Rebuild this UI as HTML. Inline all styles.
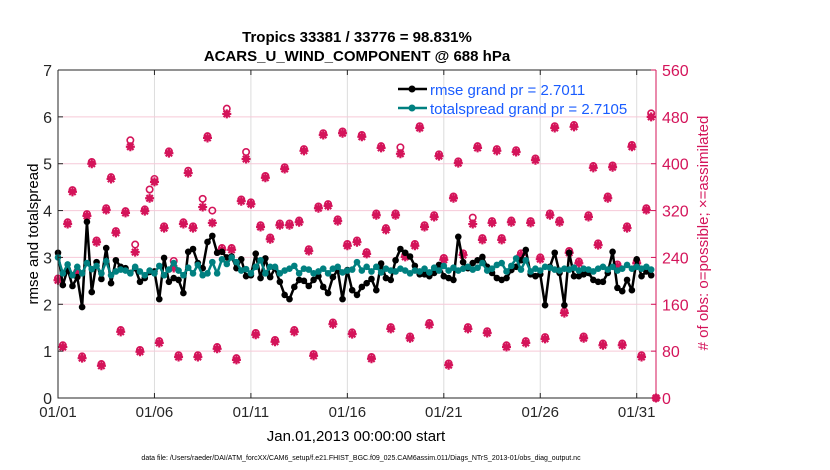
<!DOCTYPE html>
<html><head><meta charset="utf-8">
<style>
body{margin:0;background:#fff;}
svg{display:block;font-family:"Liberation Sans",Arial,sans-serif;}
</style></head>
<body>
<svg id="chart" width="830" height="470" viewBox="0 0 830 470" xmlns="http://www.w3.org/2000/svg">
<rect width="830" height="470" fill="#fff"/>
<text x="357" y="42" text-anchor="middle" font-size="15" font-weight="bold">Tropics 33381 / 33776 = 98.831%</text>
<text x="357" y="61" text-anchor="middle" font-size="15" font-weight="bold">ACARS_U_WIND_COMPONENT @ 688 hPa</text>
<g id="grid"></g>
<g id="obs"></g>
<g id="lines"></g>
<g id="axes"></g>
<g>
<line x1="398" y1="89" x2="427" y2="89" stroke="#000" stroke-width="2.5"/>
<circle cx="412" cy="89" r="3.5" fill="#000"/>
<text x="430" y="95" font-size="15" fill="#1a5cff">rmse grand pr = 2.7011</text>
<line x1="398" y1="108" x2="427" y2="108" stroke="#008080" stroke-width="2.5"/>
<circle cx="412" cy="108" r="3.5" fill="#008080"/>
<text x="430" y="114" font-size="15" fill="#1a5cff">totalspread grand pr = 2.7105</text>
</g>
<text transform="translate(38,234) rotate(-90)" text-anchor="middle" font-size="15">rmse and totalspread</text>
<text transform="translate(708,233) rotate(-90)" text-anchor="middle" font-size="15" fill="#d4145a"># of obs: o=possible; ×=assimilated</text>
<text x="356" y="441" text-anchor="middle" font-size="15">Jan.01,2013 00:00:00 start</text>
<text x="361" y="460" text-anchor="middle" font-size="7">data file: /Users/raeder/DAI/ATM_forcXX/CAM6_setup/f.e21.FHIST_BGC.f09_025.CAM6assim.011/Diags_NTrS_2013-01/obs_diag_output.nc</text>
</svg>
<script>
const xTickLabels=["01/01","01/06","01/11","01/16","01/21","01/26","01/31"];
const xTickDays=[0,5,10,15,20,25,30];
const yTicksLeft=[0,1,2,3,4,5,6,7];
const yTicksRight=[0,80,160,240,320,400,480,560];
const rmse=[3.10,2.41,2.75,2.39,2.58,1.94,3.76,2.26,2.90,2.54,
3.20,2.45,2.94,2.80,2.77,2.67,2.77,2.48,2.56,2.69,
2.70,2.11,2.99,2.48,2.56,2.52,2.24,3.12,3.18,2.88,
2.77,3.33,3.46,3.10,3.12,3.00,3.02,2.77,2.96,2.60,
2.62,3.08,2.56,2.98,2.58,2.77,2.48,2.20,2.11,2.37,
2.52,2.50,2.39,2.52,2.60,2.37,2.24,2.58,2.73,2.11,
2.73,2.30,2.20,2.37,2.45,2.54,2.30,2.87,2.56,2.52,
2.94,3.18,3.10,3.02,2.82,2.64,2.64,2.60,2.67,2.84,
2.60,2.56,2.52,3.44,2.90,2.77,2.88,2.94,3.01,2.80,
2.67,2.56,2.52,2.56,2.73,2.80,2.94,3.16,2.64,2.60,
2.64,1.98,2.80,3.10,2.67,1.98,3.10,2.60,2.60,2.64,
2.67,2.52,2.48,2.48,2.67,3.12,2.35,2.28,2.52,2.30,
2.96,2.60,2.70,2.62];
const spread=[3.00,2.66,2.85,2.62,2.80,2.66,2.88,2.75,2.82,2.66,
2.92,2.62,2.70,2.74,2.72,2.66,2.80,2.70,2.62,2.72,
2.66,2.82,2.62,2.74,2.88,2.72,2.62,2.78,2.66,2.84,
2.62,2.66,2.90,2.66,2.96,2.86,3.00,2.90,2.72,2.75,
2.66,2.80,2.94,2.66,2.80,2.80,2.66,2.72,2.76,2.82,
2.66,2.76,2.74,2.66,2.70,2.76,2.66,2.76,2.80,2.68,
2.72,2.74,2.90,2.72,2.80,2.70,2.80,2.68,2.76,2.72,
2.70,2.76,2.72,2.66,2.72,2.70,2.76,2.68,2.78,2.72,
2.82,2.72,2.78,2.72,2.76,2.80,2.74,2.78,2.88,2.72,
2.76,2.84,2.88,2.70,2.82,2.98,2.74,2.94,2.70,2.76,
2.72,2.80,2.78,2.74,2.72,2.76,2.74,2.78,2.72,2.76,
2.74,2.70,2.76,2.80,2.74,2.80,2.72,2.76,2.84,2.76,
2.80,2.76,2.80,2.74];
const nUsed=[201,87,297,352,213,68,311,400,266,55,
321,374,282,113,316,429,249,79,319,341,
369,94,290,418,222,70,297,384,290,70,
326,444,299,84,253,485,253,65,336,408,
331,108,292,376,271,96,295,391,295,113,
300,422,251,72,324,449,328,126,302,452,
260,109,266,446,246,67,312,427,287,118,
312,417,241,102,260,461,292,125,309,413,
236,56,341,401,244,118,297,427,270,111,
299,422,270,87,300,420,244,94,299,406,
237,101,312,461,300,145,248,463,230,102,
309,393,261,90,341,394,225,90,290,429,
230,70,321,480,0];
const nPoss=[204,90,300,355,216,71,314,403,269,58,
324,377,285,116,319,440,262,82,322,356,
374,97,293,421,234,73,300,388,293,73,
340,447,320,87,256,494,256,68,339,420,
334,111,295,379,274,99,298,394,298,116,
303,425,254,75,327,452,331,129,305,455,
263,112,269,449,249,70,315,430,290,121,
315,428,244,105,263,464,295,128,312,416,
239,59,344,404,247,121,308,430,273,114,
302,425,273,90,303,423,247,97,302,409,
240,104,315,464,303,148,251,466,233,105,
312,396,264,93,344,397,228,93,293,432,
233,73,324,486,0];

const X0=58,X1=656,Y0=398,Y1=70,DAYS=31;
const xs=d=>X0+(d/DAYS)*(X1-X0);
const yL=v=>Y0-(v/7)*(Y0-Y1);
const yR=c=>Y0-(c/560)*(Y0-Y1);
const NS="http://www.w3.org/2000/svg";
function mk(tag,attrs,parent){const e=document.createElementNS(NS,tag);for(const k in attrs)e.setAttribute(k,attrs[k]);parent.appendChild(e);return e;}
const grid=document.getElementById('grid'),obs=document.getElementById('obs'),lines=document.getElementById('lines'),axes=document.getElementById('axes');
const RED="#d4145a";

xTickDays.forEach(d=>{const l=mk('line',{x1:xs(d),x2:xs(d),y1:Y1,y2:Y0,stroke:'#dcdcdc','stroke-width':1},grid);

});
yTicksRight.forEach(c=>{const l=mk('line',{x1:X0,x2:X1,y1:yR(c),y2:yR(c),stroke:'#f6c9d8','stroke-width':1},grid);

});

nUsed.forEach((c,i)=>{
  const x=xs(i*0.25);
  const g=mk('g',{},obs);
  
  
  const yp=yR(nPoss[i]);
  mk('circle',{cx:x,cy:yp,r:3.2,fill:'none',stroke:RED,'stroke-width':1.6},g);
  const y=yR(c),r=4.5;
  mk('path',{d:`M${x-r} ${y}H${x+r}M${x} ${y-r}V${y+r}M${x-3.2} ${y-3.2}L${x+3.2} ${y+3.2}M${x-3.2} ${y+3.2}L${x+3.2} ${y-3.2}`,stroke:RED,'stroke-width':2.2},g);
  mk('circle',{cx:x,cy:y,r:2.5,fill:RED},g);
});

function series(vals,color,name){
  const pts=vals.map((v,i)=>[xs(i*0.25),yL(v)]);
  const p=mk('polyline',{points:pts.map(p=>p.join(',')).join(' '),fill:'none',stroke:color,'stroke-width':2.5,'stroke-linejoin':'round'},lines);
  
  
  pts.forEach(q=>{const c=mk('circle',{cx:q[0],cy:q[1],r:3.3,fill:color},lines);
    
    });
}
series(rmse,'#000','rmse');
series(spread,'#008080','totalspread');

mk('path',{d:`M${X0} ${Y1}V${Y0}H${X1}`,fill:'none',stroke:'#262626','stroke-width':1},axes);
mk('line',{x1:X0,x2:X1,y1:Y1,y2:Y1,stroke:'#262626','stroke-width':1},axes);
mk('line',{x1:X1,x2:X1,y1:Y1,y2:Y0,stroke:RED,'stroke-width':1},axes);
xTickDays.forEach((d,i)=>{
  mk('line',{x1:xs(d),x2:xs(d),y1:Y0,y2:Y0-5,stroke:'#262626'},axes);
  mk('line',{x1:xs(d),x2:xs(d),y1:Y1,y2:Y1+5,stroke:'#262626'},axes);
  const t=mk('text',{x:xs(d),y:417,'text-anchor':'middle','font-size':15,fill:'#262626'},axes);
  t.textContent=xTickLabels[i];
  
  
});
yTicksLeft.forEach(v=>{
  mk('line',{x1:X0,x2:X0+5,y1:yL(v),y2:yL(v),stroke:'#262626'},axes);
  const t=mk('text',{x:52,y:yL(v)+6,'text-anchor':'end','font-size':16,fill:'#262626'},axes);
  t.textContent=v;
  
  
});
yTicksRight.forEach(c=>{
  mk('line',{x1:X1,x2:X1-5,y1:yR(c),y2:yR(c),stroke:RED},axes);
  const t=mk('text',{x:662,y:yR(c)+6,'font-size':16,fill:RED},axes);
  t.textContent=c;
  
  
});
</script>
</body></html>
